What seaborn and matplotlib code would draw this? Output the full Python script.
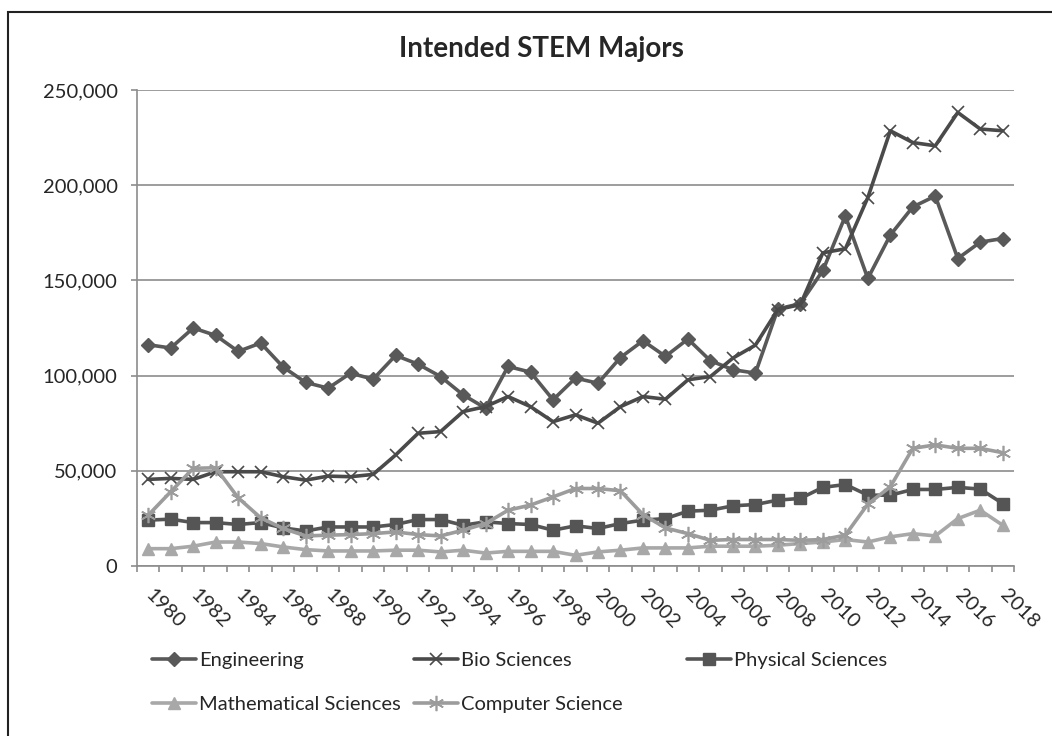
import matplotlib
matplotlib.use("Agg")
import matplotlib.pyplot as plt
from matplotlib.patches import Rectangle
from matplotlib.ticker import FuncFormatter, FixedLocator
import seaborn as sns

sns.set_style("white")
plt.rcParams['font.family'] = ['Lato', 'DejaVu Sans']

years = list(range(1980, 2019))

engineering = [116200, 114500, 125000, 121100, 112700, 117100, 104500, 96400, 93400, 101300,
               98100, 110600, 106000, 99500, 89900, 82900, 104800, 101800, 87300, 98700,
               96000, 109500, 118300, 110100, 119200, 107800, 103100, 101300, 135000, 137800,
               155200, 183800, 151000, 173800, 188600, 194300, 161500, 170100, 172000]
bio = [45500, 46000, 45500, 49500, 49500, 49500, 46900, 45100, 47200, 46900,
       48100, 58300, 69700, 70600, 81100, 83700, 89000, 83700, 75800, 79400,
       75000, 83700, 89000, 87600, 97800, 99500, 109200, 116000, 134700, 137300,
       164500, 166600, 193500, 228600, 222400, 220700, 238200, 229500, 228600]
physical = [24100, 24600, 22800, 22800, 21800, 22800, 20000, 18400, 20500, 20500,
            20500, 21800, 24400, 24400, 21400, 23200, 22300, 21800, 18800, 21100,
            19700, 22300, 24100, 24900, 28800, 29300, 31600, 32300, 34600, 35500,
            41300, 42800, 37200, 37200, 40200, 40200, 41300, 40400, 32800]
math_sci = [9100, 9100, 10400, 12600, 12600, 11800, 10000, 8600, 7900, 7900,
            7900, 8300, 8300, 7400, 8300, 6800, 7700, 7700, 7700, 5600,
            7400, 8300, 9500, 9500, 9500, 10400, 10400, 10400, 10900, 11800,
            12600, 13900, 12600, 15300, 17000, 15800, 24900, 29300, 21400]
comp_sci = [26700, 39000, 51300, 51600, 35800, 25300, 19700, 15800, 16200, 16500,
            17000, 17900, 16500, 15800, 18800, 22300, 29300, 32000, 36300, 40700,
            40700, 39500, 27000, 20000, 17000, 13500, 13900, 13900, 13900, 13500,
            13900, 16200, 32500, 41600, 61800, 63600, 61800, 61800, 59500]

series = [
    ("Engineering", engineering, "#595959", "D", 7, 1),
    ("Bio Sciences", bio, "#4a4a4a", "x", 9, 1.2),
    ("Physical Sciences", physical, "#555555", "s", 8.5, 1),
    ("Mathematical Sciences", math_sci, "#a8a8a8", "^", 9, 1),
    ("Computer Science", comp_sci, "#9c9c9c", (6, 2, 0), 11, 1.2),
]

fig = plt.figure(figsize=(10.52, 7.36), dpi=100)
ax = fig.add_axes([137 / 1052, 1 - 566 / 736, (1014 - 137) / 1052, (566 - 90) / 736])

for name, vals, col, mk, ms, mew in series:
    sns.lineplot(x=years, y=vals, ax=ax, color=col, marker=mk, markersize=ms,
                 markeredgewidth=mew, markeredgecolor=col, linewidth=2.6, label=name)
handles, labels = ax.get_legend_handles_labels()
lines = dict(zip(labels, handles))
ax.get_legend().remove()

ax.set_xlim(1979.5, 2018.5)
ax.set_ylim(0, 250000)
ax.set_yticks(range(0, 250001, 50000))
ax.yaxis.set_major_formatter(FuncFormatter(lambda v, p: f"{v:,.0f}"))
ax.yaxis.grid(True, color="#8c8c8c", linewidth=1.2)
ax.set_axisbelow(True)
for s in ["top", "right"]:
    ax.spines[s].set_visible(False)
for s in ["left", "bottom"]:
    ax.spines[s].set_color("#8c8c8c")
    ax.spines[s].set_linewidth(1.2)

ax.set_xticks(years[::2])
ax.set_xticklabels([str(y) for y in years[::2]], rotation=-45, ha="left", va="center",
                   rotation_mode="anchor", fontsize=14.5)
ax.xaxis.set_minor_locator(FixedLocator([y - 0.5 for y in years] + [2018.5]))
ax.tick_params(axis="x", which="major", length=0, pad=19)
ax.tick_params(axis="x", which="minor", length=4.5, width=1.2, color="#8c8c8c", direction="out", bottom=True)
ax.tick_params(axis="y", length=4, width=1.2, color="#8c8c8c", direction="out", left=True,
               labelsize=14.5, pad=10)
ax.set_xlabel("")
ax.set_ylabel("")

fig.text(541 / 1052, 1 - 49 / 736, "Intended STEM Majors", ha="center", va="center",
         fontsize=20, fontweight="bold")

# legend laid out in three fixed columns like the original
cols = [(["Engineering", "Mathematical Sciences"], 152),
        (["Bio Sciences", "Computer Science"], 414),
        (["Physical Sciences"], 687)]
for names, xpix in cols:
    fig.legend([lines[n] for n in names], names, loc="upper left",
               bbox_to_anchor=(xpix / 1052, 1 - 652 / 736), frameon=False,
               borderpad=0, borderaxespad=0, handlelength=2.2, handletextpad=0.15,
               labelspacing=1.35, fontsize=14.5)

fig.add_artist(Rectangle((8 / 1052, -0.05), 1.2, 1.05 - 12 / 736, transform=fig.transFigure,
                         fill=False, edgecolor="#222222", linewidth=1.5))

fig.savefig("out.png", dpi=100)
